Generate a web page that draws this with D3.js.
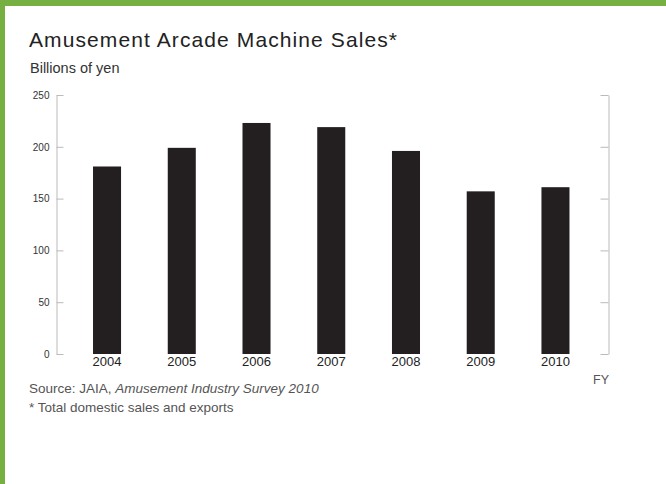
<!DOCTYPE html>
<html>
<head>
<meta charset="utf-8">
<script src="https://cdn.jsdelivr.net/npm/d3@7"></script>
<style>
  body { margin: 0; background: #fff; }
  svg text { font-family: "Liberation Sans", Arial, sans-serif; }
</style>
</head>
<body>
<svg id="chart" width="666" height="484"></svg>
<script>
const years = ["2004", "2005", "2006", "2007", "2008", "2009", "2010"];
const sales = [181, 199, 223, 219, 196, 157, 161];
const yTicks = [0, 50, 100, 150, 200, 250];

const SIZE = { width: 666, height: 484 };
const PLOT = { left: 56, right: 608, top: 95, bottom: 354 };
const GREEN = "#76b043";
const BAR = "#231f20";
const AXIS = "#bbbbbb";

const svg = d3.select("#chart");

// frame
svg.append("rect").attr("x", 0).attr("y", 0).attr("width", SIZE.width).attr("height", 6).attr("fill", GREEN);
svg.append("rect").attr("x", 0).attr("y", 0).attr("width", 5).attr("height", SIZE.height).attr("fill", GREEN);

const y = d3.scaleLinear().domain([0, 250]).range([PLOT.bottom, PLOT.top]);
const x = d3.scaleBand()
  .domain(years)
  .range([70, 592.5])
  .paddingInner(0.625)
  .paddingOuter(0.308);

// bars
svg.append("g")
  .selectAll("rect")
  .data(years)
  .join("rect")
  .attr("x", d => x(d))
  .attr("width", x.bandwidth())
  .attr("y", (d, i) => y(sales[i]))
  .attr("height", (d, i) => y(0) - y(sales[i]))
  .attr("fill", BAR);

// left axis
const yAxisL = d3.axisRight(y).tickValues(yTicks).tickSize(7).tickSizeOuter(0).tickFormat(d3.format("d"));
const gl = svg.append("g").attr("transform", `translate(${PLOT.left + 0.5},0)`).call(yAxisL);
gl.selectAll("path, line").attr("stroke", AXIS);
gl.selectAll("text")
  .attr("x", -7)
  .attr("text-anchor", "end")
  .attr("font-size", 10)
  .attr("fill", "#333");

// right axis
const yAxisR = d3.axisLeft(y).tickValues(yTicks).tickSize(8).tickSizeOuter(0).tickFormat("");
const gr = svg.append("g").attr("transform", `translate(${PLOT.right + 0.5},0)`).call(yAxisR);
gr.selectAll("path, line").attr("stroke", AXIS);

// year labels
svg.append("g")
  .selectAll("text")
  .data(years)
  .join("text")
  .attr("x", d => x(d) + x.bandwidth() / 2)
  .attr("y", 366)
  .attr("text-anchor", "middle")
  .attr("font-size", 13)
  .attr("fill", "#222")
  .text(d => d);

// titles
svg.append("text").attr("x", 29).attr("y", 47).attr("font-size", 21).attr("fill", "#222")
  .attr("textLength", 368).attr("lengthAdjust", "spacing")
  .text("Amusement Arcade Machine Sales*");
svg.append("text").attr("x", 30).attr("y", 73).attr("font-size", 14.5).attr("fill", "#333")
  .text("Billions of yen");

// notes
const src = svg.append("text").attr("x", 29).attr("y", 393).attr("font-size", 13.5).attr("fill", "#555");
src.append("tspan").text("Source: JAIA, ");
src.append("tspan").attr("font-style", "italic").text("Amusement Industry Survey 2010");
svg.append("text").attr("x", 29).attr("y", 412).attr("font-size", 13.5).attr("fill", "#555")
  .text("* Total domestic sales and exports");
svg.append("text").attr("x", 593).attr("y", 384).attr("font-size", 12.5).attr("fill", "#555")
  .text("FY");
</script>
</body>
</html>
